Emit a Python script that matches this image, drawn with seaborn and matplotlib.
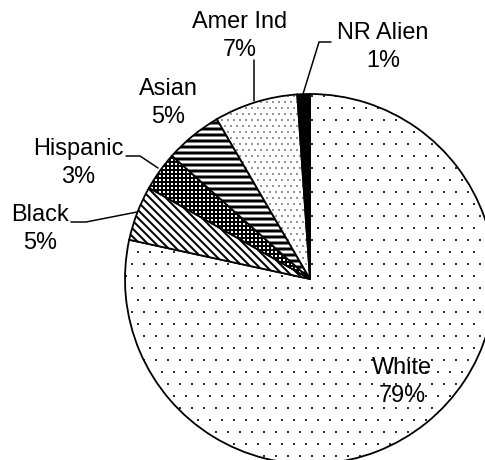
import matplotlib
matplotlib.use("Agg")
import matplotlib.hatch
import matplotlib.pyplot as plt
import seaborn as sns

# shares measured from the wedges, printed labels are the rounded values
groups = ["White", "Black", "Hispanic", "Asian", "Amer Ind", "NR Alien"]
shares = [78.4, 4.8, 3.4, 5.0, 7.3, 1.1]
pct_labels = ["79%", "5%", "3%", "5%", "7%", "1%"]
hatches = [".", "\\\\\\", "+++", "--", "..", ""]
hatch_lw = [1.0, 2.0, 2.0, 3.0, 1.0, 1.0]
faces = ["white", "white", "white", "white", "white", "black"]

sns.set_theme(style="white")
plt.rcParams["font.family"] = ["Liberation Sans", "DejaVu Sans"]
plt.rcParams["hatch.linewidth"] = 1.0
# smaller dots than the default '.' hatch
matplotlib.hatch.SmallFilledCircles.size = 0.04

DPI = 72
W, H = 485, 460
fig = plt.figure(figsize=(W / DPI, H / DPI), dpi=DPI)

# pie centre / radius in pixels, axes limit in data units
cx, cy, r = 310, 279, 185
lim = 1.1
half = r * lim
ax = fig.add_axes([(cx - half) / W, (H - cy - half) / H, 2 * half / W, 2 * half / H])

wedges, _ = ax.pie(shares, startangle=90, counterclock=False, colors=faces,
                   wedgeprops=dict(edgecolor="black", linewidth=1.8))
for w, h, lw in zip(wedges, hatches, hatch_lw):
    w.set_hatch(h)
    w.set_hatch_linewidth(lw)
    w.set_clip_on(False)
ax.set_xlim(-lim, lim)
ax.set_ylim(-lim, lim)
ax.set_aspect("equal")
ax.axis("off")


def px(x, y):
    return (x - cx) / r, (cy - y) / r


label_px = {
    "White": (402, 382),
    "Black": (40, 229),
    "Hispanic": (78, 163),
    "Asian": (168, 103),
    "Amer Ind": (240, 36),
    "NR Alien": (383, 47),
}
for g, p in zip(groups, pct_labels):
    x, y = px(*label_px[g])
    ax.text(x, y, f"{g}\n{p}", ha="center", va="center", fontsize=23.5,
            linespacing=1.3, color="black")

leaders = [
    [(254, 60), (254, 101)],
    [(303, 94), (319, 42), (331, 42)],
    [(126, 156), (140, 156), (158, 168)],
    [(71, 222), (86, 222), (137, 212)],
]
for pts in leaders:
    xs, ys = zip(*[px(*q) for q in pts])
    ax.plot(xs, ys, color="black", linewidth=1.5, clip_on=False)

fig.savefig("out.png", dpi=DPI)
